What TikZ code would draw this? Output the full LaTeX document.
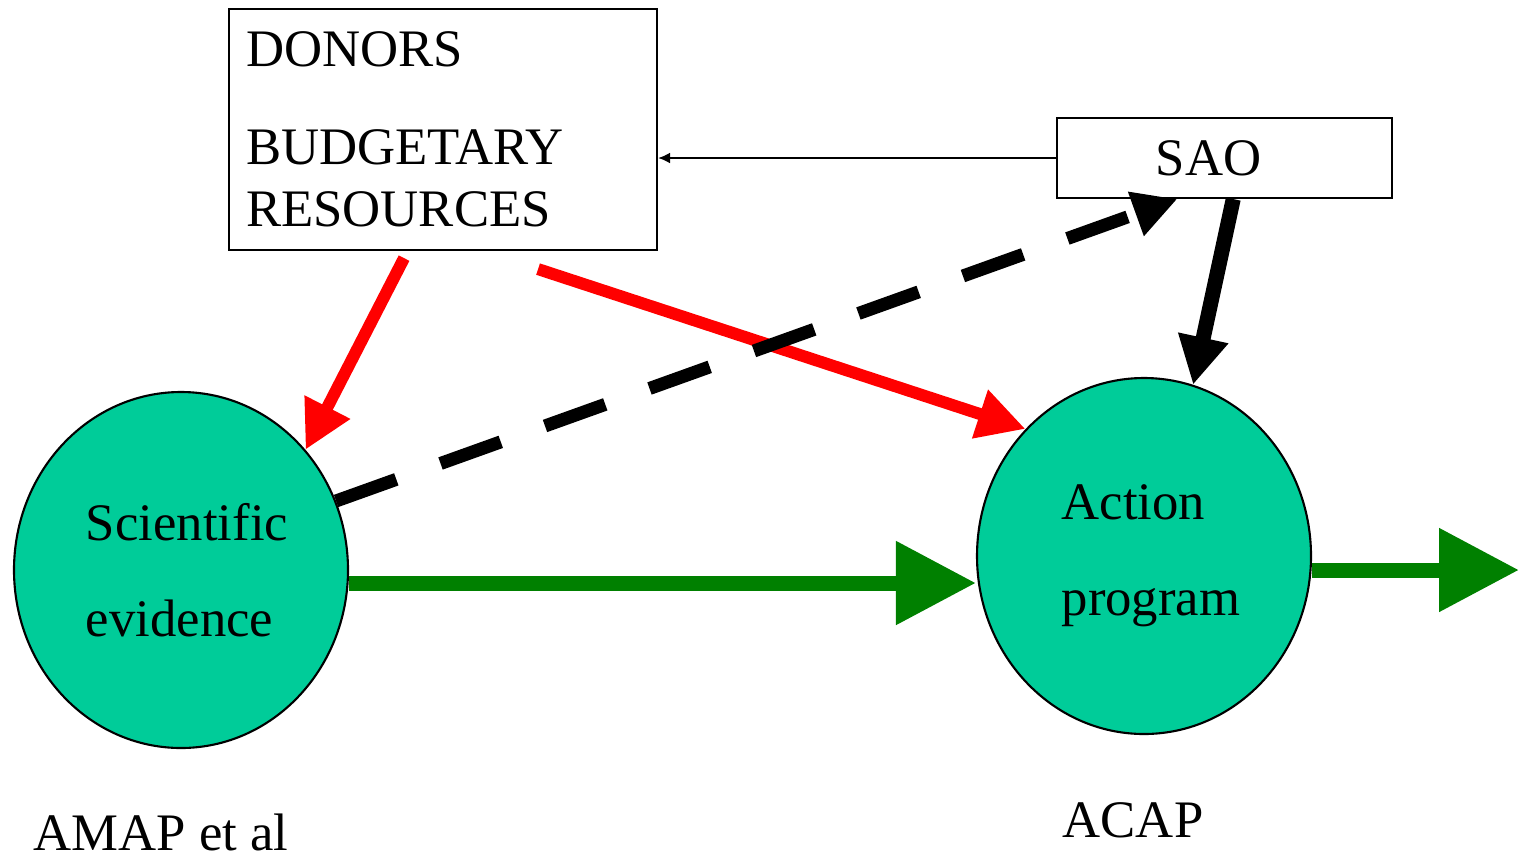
\documentclass[tikz,border=0pt]{standalone}
\usepackage{fontspec}
\setmainfont{Liberation Serif}
\usetikzlibrary{arrows.meta,shapes.geometric,positioning}

\definecolor{evfill}{HTML}{00CC99}
\definecolor{fundred}{HTML}{FF0000}
\definecolor{flowgreen}{HTML}{008000}

\begin{document}
\begin{tikzpicture}[>=Stealth,
    box/.style={draw, line width=0.6pt, fill=white, inner ysep=0pt},
    blob/.style={ellipse, draw, line width=0.6pt, fill=evfill, inner sep=0pt,
        minimum width=3.34cm, minimum height=3.56cm, align=left,
        font=\fontsize{15}{27.3}\selectfont},
    fund/.style={draw=fundred, line width=0.12cm, -{Triangle[length=0.48cm, width=0.48cm]}},
    flow/.style={draw=flowgreen, line width=0.15cm, -{Triangle[length=0.8cm, width=0.8cm]}},
    steer/.style={line width=0.15cm, -{Triangle[length=0.48cm, width=0.48cm]}},
    report/.style={line width=0.13cm, dash pattern=on 0.64cm off 0.47cm,
        -{Triangle[length=0.44cm, width=0.44cm]}},
    lbl/.style={anchor=base west, inner sep=0pt, font=\fontsize{15}{18}\selectfont}]

    \useasboundingbox (0, 0) rectangle (15.19, -8.57);

    % --- Boxes ---
    \node[box, anchor=north west, inner xsep=0.17cm, text width=3.94cm,
        minimum height=2.41cm, align=left, font=\fontsize{15}{17.6}\selectfont]
        (donors) at (2.28, -0.08) {DONORS\\[0.36cm]BUDGETARY\\RESOURCES};
    \node[box, minimum width=3.35cm, minimum height=0.8cm,
        font=\fontsize{15}{18}\selectfont] (sao) at (12.245, -1.58) {SAO\hspace*{0.32cm}};

    % --- Ellipses ---
    \node[blob] (sci) at (1.81, -5.70) {\hspace*{0.12cm}Scientific\\\hspace*{0.12cm}evidence};
    \node[blob] (act) at (11.44, -5.56) {\hspace*{0.14cm}Action\\\hspace*{0.14cm}program};

    % --- Labels under the ellipses ---
    \node[lbl] (amap) at (0.33, -8.50) {AMAP et al};
    \node[lbl] (acap) at (10.62, -8.37) {ACAP};

    % --- Free ends ---
    \coordinate (r1) at ([shift={(-0.39, -0.07)}]donors.south);
    \coordinate (r2) at ([shift={(0.95, -0.18)}]donors.south);
    \coordinate (out) at (15.19, -5.70);

    % --- Budget (red) ---
    \draw[fund] (r1) -- (sci.44);
    \draw[fund] (r2) -- (act.133);

    % --- Reporting to SAO (dashed) ---
    \draw[report] (sci.24) -- (sao.221);

    % --- SAO ---
    \draw[-{Latex[length=0.12cm, width=0.11cm]}, line width=0.02cm]
        (sao.west) -- (sao.west -| donors.east);
    \draw[steer] (sao.282) -- (act.74);

    % --- Flow (green) ---
    \draw[flow] ([yshift=-0.13cm]sci.east) -- ([yshift=-0.27cm]act.west);
    \draw[flow] ([yshift=-0.14cm]act.east) -- (out);

\end{tikzpicture}
\end{document}
